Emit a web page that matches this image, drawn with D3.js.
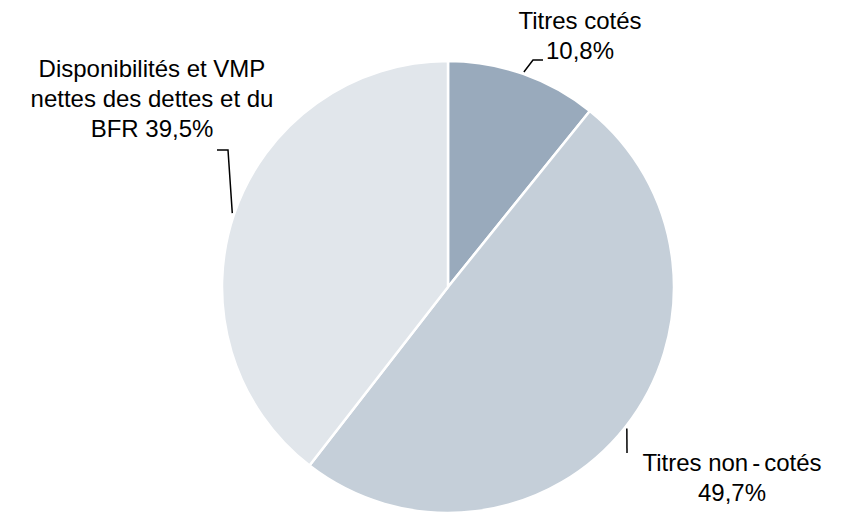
<!DOCTYPE html>
<html>
<head>
<meta charset="utf-8">
<script src="https://cdn.jsdelivr.net/npm/d3@7"></script>
<style>
  html, body { margin: 0; padding: 0; background: #fff; }
  text { font-family: "Liberation Sans", Arial, sans-serif; font-size: 24px; fill: #000; }
</style>
</head>
<body>
<div id="chart"></div>
<script>
// Data
const categories = ["Titres cotés", "Titres non-cotés", "Disponibilités et VMP nettes des dettes et du BFR"];
const values = [10.8, 49.7, 39.5];
const labelLines = [
    ["Titres cotés", "10,8%"],
    ["Titres non-cotés", "49,7%"],
    ["Disponibilités et VMP", "nettes des dettes et du", "BFR 39,5%"]
];
const colors = ["#99aabc", "#c5cfd9", "#e1e6eb"];

const width = 845, height = 515;
const cx = 448, cy = 287, radius = 226;

// label layout: text anchor point (first baseline) and leader elbow
const labelPos = [
    { x: 580, y: 29, elbow: [[533, 60], [543, 60]] },
    { x: 732, y: 471, elbow: [[627, 453]] },
    { x: 152, y: 77, elbow: [[228, 150], [217, 150]] }
];

const svg = d3.select("#chart")
    .append("svg")
    .attr("width", width)
    .attr("height", height);

const g = svg.append("g")
    .attr("transform", `translate(${cx},${cy})`);

const pie = d3.pie().sort(null).value(d => d);
const arcs = pie(values);

const arc = d3.arc().innerRadius(0).outerRadius(radius);
const outer = d3.arc().innerRadius(radius + 2).outerRadius(radius + 2);

// Slices
g.selectAll("path.slice")
    .data(arcs)
    .enter()
    .append("path")
    .attr("class", "slice")
    .attr("d", arc)
    .attr("fill", (d, i) => colors[i])
    .attr("stroke", "#fff")
    .attr("stroke-width", 2.5)
    .attr("stroke-linejoin", "round");

// Leader lines
svg.selectAll("polyline.leader")
    .data(arcs)
    .enter()
    .append("polyline")
    .attr("class", "leader")
    .attr("points", (d, i) => {
        const c = outer.centroid(d);
        const pts = [[c[0] + cx, c[1] + cy]].concat(labelPos[i].elbow);
        return pts.map(p => p.join(",")).join(" ");
    })
    .attr("fill", "none")
    .attr("stroke", "#000")
    .attr("stroke-width", 1.5);

// Labels
labelLines.forEach((lines, i) => {
    const text = svg.append("text")
        .attr("class", "label")
        .attr("text-anchor", "middle");
    lines.forEach((line, j) => {
        // the original spaces out hyphens a little
        const parts = line.split(/(-)/);
        parts.forEach((p, k) => {
            const t = text.append("tspan").text(p);
            if (k === 0) {
                t.attr("x", labelPos[i].x).attr("y", labelPos[i].y + j * 30);
            } else {
                t.attr("dx", 4);
            }
        });
    });
});
</script>
</body>
</html>
